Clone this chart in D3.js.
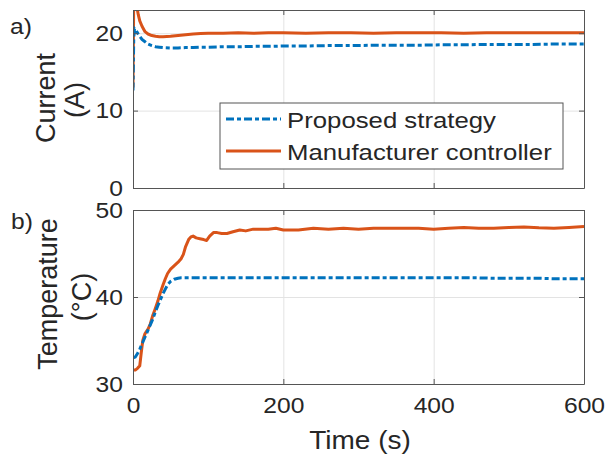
<!DOCTYPE html>
<html>
<head>
<meta charset="utf-8">
<script src="https://cdn.jsdelivr.net/npm/d3@7"></script>
<style>
  body { margin: 0; background: #fff; }
  svg { display: block; font-family: "Liberation Sans", Arial, sans-serif; }
</style>
</head>
<body>
<svg width="607" height="455"></svg>
<script>
//
// data
//

var seriesNames = ["Proposed strategy", "Manufacturer controller"];

// a) current (A)
var tCurrent = [0, 1, 2, 3, 5, 7, 9, 12, 16, 20, 25, 30, 35, 40, 50, 60, 70, 80, 90, 100,
  120, 140, 160, 180, 200, 230, 260, 290, 320, 350, 380, 410, 440, 470, 500, 530, 560, 600];
var currentProposed = [12.6, 19.4, 20.6, 20.5, 20.2, 19.9, 19.6, 19.2, 18.9, 18.6, 18.4, 18.25, 18.2, 18.15, 18.1, 18.1, 18.15, 18.15, 18.2, 18.2,
  18.25, 18.25, 18.3, 18.3, 18.35, 18.35, 18.4, 18.4, 18.45, 18.45, 18.45, 18.5, 18.5, 18.55, 18.55, 18.55, 18.6, 18.6];
var currentManufacturer = [13.0, 24.5, 25.0, 24.6, 23.5, 22.4, 21.6, 20.9, 20.2, 19.9, 19.7, 19.6, 19.55, 19.55, 19.6, 19.7, 19.8, 19.9, 19.95, 20.0,
  20.0, 20.05, 20.0, 20.05, 20.05, 20.0, 20.05, 20.05, 20.0, 20.05, 20.05, 20.05, 20.0, 20.05, 20.05, 20.05, 20.05, 20.05];

// b) temperature (°C)
var tTemp = [0, 3, 6, 9, 11, 13, 16, 20, 23, 26, 29, 33, 36, 40, 43, 46, 50, 55, 60, 64, 67, 70, 74, 77, 80, 84, 89, 94, 98,
  102, 107, 112, 118, 125, 133, 142, 150, 160, 170, 180, 190, 200, 220, 240, 260, 280, 300, 320, 340, 360, 380, 400,
  420, 440, 460, 480, 500, 520, 540, 560, 580, 600];
var tempProposed = [33.0, 33.1, 33.5, 34.0, 34.4, 34.8, 35.4, 36.2, 36.8, 37.4, 38.1, 39.0, 39.6, 40.4, 40.9, 41.4, 41.8, 42.05, 42.15, 42.2, 42.2, 42.2, 42.2, 42.2, 42.2, 42.2, 42.2, 42.2, 42.2,
  42.2, 42.2, 42.2, 42.2, 42.2, 42.2, 42.2, 42.2, 42.2, 42.2, 42.2, 42.2, 42.2, 42.2, 42.2, 42.2, 42.2, 42.2, 42.2, 42.2, 42.2, 42.2, 42.2,
  42.2, 42.2, 42.2, 42.15, 42.15, 42.15, 42.15, 42.1, 42.1, 42.1];
var tempManufacturer = [31.6, 31.6, 31.8, 32.1, 33.6, 35.0, 35.8, 36.3, 36.9, 37.8, 38.5, 39.5, 40.4, 41.4, 42.1, 42.7, 43.2, 43.6, 44.0, 44.4, 44.9, 45.8, 46.6, 46.9, 47.0, 46.8, 46.7, 46.6, 46.5,
  47.0, 47.4, 47.4, 47.3, 47.3, 47.5, 47.7, 47.6, 47.8, 47.8, 47.8, 47.9, 47.7, 47.7, 47.9, 47.8, 47.9, 47.8, 47.9, 47.9, 47.9, 47.9, 47.8,
  47.9, 48.0, 47.9, 47.9, 48.0, 48.05, 47.95, 47.9, 48.0, 48.1];

var xTicks = [0, 200, 400, 600];
var currentTicks = [0, 10, 20];
var tempTicks = [30, 40, 50];

//
// layout
//

var svg = d3.select("svg");
var ink = "#262626";
var blue = "#0072BD", orange = "#D95319";
var blueDash = "8,3,4,3";
var stretch = "scale(1.12,1)";

var x = d3.scaleLinear().domain([0, 600]).range([133, 584]);

var panels = [
  { id: "a", top: 10, bottom: 188, domain: [0, 23], ticks: currentTicks, grid: [10, 20],
    t: tCurrent, blueY: currentProposed, orangeY: currentManufacturer, labels: false },
  { id: "b", top: 210, bottom: 384, domain: [30, 50], ticks: tempTicks, grid: [40],
    t: tTemp, blueY: tempProposed, orangeY: tempManufacturer, labels: true }
];

panels.forEach(function(p) {
  var y = d3.scaleLinear().domain(p.domain).range([p.bottom, p.top]);
  var h = p.bottom - p.top;
  var g = svg.append("g");

  // grid
  g.append("g")
    .attr("class", "grid")
    .attr("transform", "translate(0," + p.bottom + ")")
    .call(d3.axisBottom(x).tickValues([200, 400]).tickSize(-h).tickFormat(""));
  g.append("g")
    .attr("class", "grid")
    .attr("transform", "translate(133,0)")
    .call(d3.axisLeft(y).tickValues(p.grid).tickSize(-451).tickFormat(""));
  g.selectAll(".grid .domain").remove();
  g.selectAll(".grid line").attr("stroke", "#e3e3e3");

  // lines
  var clipId = "clip-" + p.id;
  svg.append("clipPath").attr("id", clipId)
    .append("rect").attr("x", 133).attr("y", p.top).attr("width", 451).attr("height", h);

  var line = d3.line()
    .x(function(d) { return x(d[0]); })
    .y(function(d) { return y(d[1]); });

  g.append("path")
    .datum(p.t.map(function(t, i) { return [t, p.orangeY[i]]; }))
    .attr("clip-path", "url(#" + clipId + ")")
    .attr("fill", "none")
    .attr("stroke", orange)
    .attr("stroke-width", 3)
    .attr("stroke-linejoin", "round")
    .attr("d", line);

  g.append("path")
    .datum(p.t.map(function(t, i) { return [t, p.blueY[i]]; }))
    .attr("clip-path", "url(#" + clipId + ")")
    .attr("fill", "none")
    .attr("stroke", blue)
    .attr("stroke-width", 3)
    .attr("stroke-dasharray", blueDash)
    .attr("d", line);

  // axes, ticks inward, box around
  var bottomAxis = g.append("g")
    .attr("class", "ax")
    .attr("transform", "translate(0," + p.bottom + ")")
    .call(d3.axisBottom(x).tickValues(xTicks).tickSizeInner(-5).tickSizeOuter(0).tickPadding(13)
      .tickFormat(p.labels ? d3.format("d") : ""));
  g.append("g")
    .attr("class", "ax")
    .attr("transform", "translate(0," + p.top + ")")
    .call(d3.axisTop(x).tickValues(xTicks).tickSizeInner(-5).tickSizeOuter(0).tickFormat(""));
  var leftAxis = g.append("g")
    .attr("class", "ax")
    .attr("transform", "translate(133,0)")
    .call(d3.axisLeft(y).tickValues(p.ticks).tickSizeInner(-5).tickSizeOuter(0).tickPadding(9));
  g.append("g")
    .attr("class", "ax")
    .attr("transform", "translate(584,0)")
    .call(d3.axisRight(y).tickValues(p.ticks).tickSizeInner(-5).tickSizeOuter(0).tickFormat(""));

  g.selectAll(".ax .domain, .ax line").attr("stroke", "#555");
  [bottomAxis, leftAxis].forEach(function(a) {
    a.selectAll("text")
      .attr("font-size", 22)
      .attr("fill", ink)
      .attr("font-family", "'Liberation Sans', Arial, sans-serif")
      .attr("transform", stretch);
  });
});

//
// labels
//

function hText(str, px, py, size, anchor) {
  return svg.append("text")
    .attr("transform", "translate(" + px + "," + py + ") " + stretch)
    .attr("font-size", size)
    .attr("fill", ink)
    .attr("text-anchor", anchor || "start")
    .text(str);
}

hText("a)", 10, 34, 22);
hText("b)", 11, 229, 22);
hText("Time (s)", 360, 449, 25, "middle");

function vText(str, px, py) {
  svg.append("text")
    .attr("transform", "translate(" + px + "," + py + ") rotate(-90)")
    .attr("font-size", 27)
    .attr("fill", ink)
    .attr("text-anchor", "middle")
    .text(str);
}
vText("Current", 55, 98);
vText("(A)", 84, 100);
vText("Temperature", 57, 294);
vText("(°C)", 91, 297);

// legend
var legend = svg.append("g");
legend.append("rect")
  .attr("x", 220).attr("y", 103).attr("width", 343).attr("height", 66)
  .attr("fill", "#fff").attr("stroke", "#555").attr("stroke-width", 1);

var legendRows = [
  { name: seriesNames[0], color: blue, dash: blueDash, y: 119 },
  { name: seriesNames[1], color: orange, dash: null, y: 151 }
];
legendRows.forEach(function(r) {
  legend.append("line")
    .attr("x1", 226).attr("x2", 281).attr("y1", r.y).attr("y2", r.y)
    .attr("stroke", r.color).attr("stroke-width", 3)
    .attr("stroke-dasharray", r.dash);
  hText(r.name, 287, r.y + 9, 23);
});
</script>
</body>
</html>
